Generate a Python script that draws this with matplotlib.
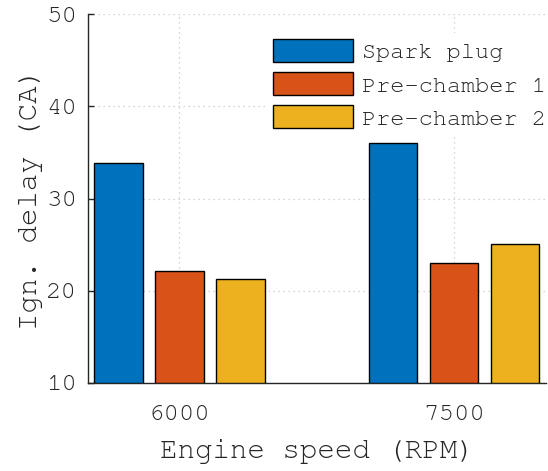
import matplotlib.pyplot as plt
import numpy as np

speeds = ['6000', '7500']
series_names = ['Spark plug', 'Pre-chamber 1', 'Pre-chamber 2']
spark_plug = [33.9, 36.0]
pre_chamber_1 = [22.1, 23.0]
pre_chamber_2 = [21.3, 25.1]
colors = ['#0072BD', '#D95319', '#EDB120']

plt.rcParams['font.family'] = ['FreeMono', 'Courier Prime', 'Liberation Mono']
text_col = '#262626'

fig = plt.figure(figsize=(5.48, 4.71), dpi=100)
ax = fig.add_axes([88 / 548, 1 - 383 / 471, 458 / 548, 369 / 471])

x = np.arange(1, len(speeds) + 1)
step = 0.222
width = 0.178
for i, (vals, name) in enumerate(zip([spark_plug, pre_chamber_1, pre_chamber_2], series_names)):
    ax.bar(x + (i - 1) * step, np.array(vals) - 10, bottom=10, width=width,
           color=colors[i], edgecolor='black', linewidth=1.0, label=name, zorder=3)

ax.set_xlim(0.667, 2.335)
ax.set_ylim(10, 50)
ax.set_xticks(x)
ax.set_xticklabels(speeds)
ax.set_yticks([10, 20, 30, 40, 50])

ax.grid(True, linestyle=(0, (1, 3)), color='#c8c8c8', linewidth=0.9, zorder=0)
ax.set_axisbelow(True)

for s in ['top', 'right']:
    ax.spines[s].set_visible(False)
for s in ['left', 'bottom']:
    ax.spines[s].set_color(text_col)
    ax.spines[s].set_linewidth(1.0)

ax.tick_params(direction='in', length=4, width=1.0, colors=text_col, labelsize=18.5, pad=8)
ax.tick_params(axis='x', pad=16)
ax.set_xlabel('Engine speed (RPM)', fontsize=21, color=text_col, labelpad=10)
ax.set_ylabel('Ign. delay (CA)', fontsize=21, color=text_col, labelpad=2)

leg = ax.legend(loc='upper left', bbox_to_anchor=(267 / 548, 1 - 33 / 471),
                bbox_transform=fig.transFigure, fontsize=17, frameon=True,
                handlelength=3.4, handleheight=1.1, labelspacing=0.42,
                handletextpad=0.38, borderpad=0.25, borderaxespad=0, fancybox=False)
leg.get_frame().set_edgecolor('none')
leg.get_frame().set_facecolor('white')
leg.get_frame().set_alpha(1)
for t in leg.get_texts():
    t.set_color(text_col)

fig.savefig('out.png', dpi=100)
